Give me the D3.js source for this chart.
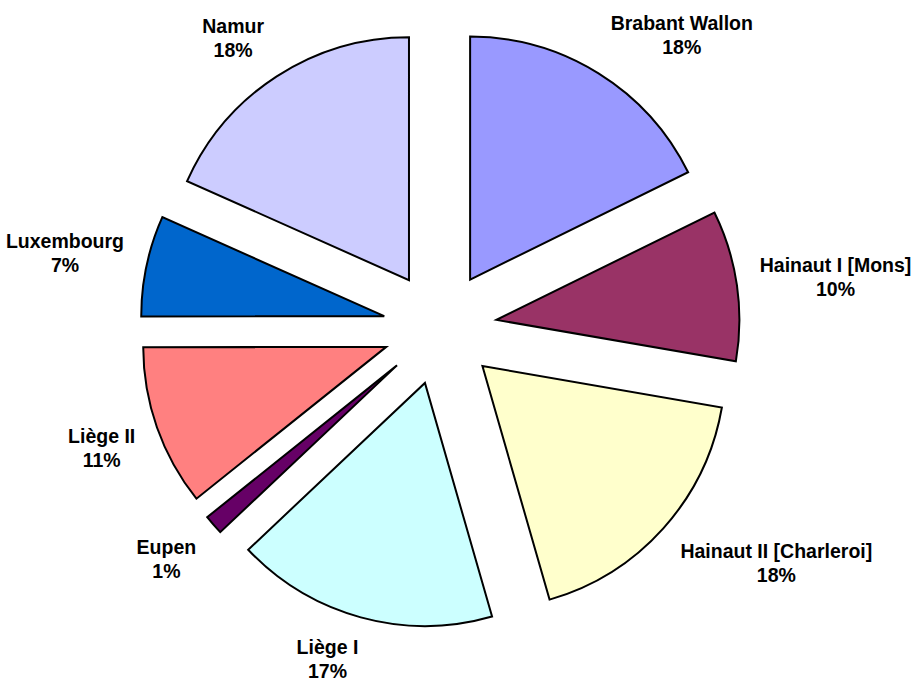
<!DOCTYPE html>
<html>
<head>
<meta charset="utf-8">
<script src="https://cdn.jsdelivr.net/npm/d3@7"></script>
<style>
  html, body { margin: 0; padding: 0; background: #fff; }
  svg { display: block; }
</style>
</head>
<body>
<svg id="chart" width="921" height="684"></svg>
<script>
// provinces, clockwise from 12 o'clock
const regions = ['Brabant Wallon', 'Hainaut I [Mons]', 'Hainaut II [Charleroi]', 'Liège I',
  'Eupen', 'Liège II', 'Luxembourg', 'Namur']
const shares = [17.7, 10.0, 17.8, 17.4, 1.3, 10.7, 6.7, 18.3]
const colors = ['#9999FF', '#993366', '#FFFFCC', '#CCFFFF', '#660066', '#FF8080', '#0066CC', '#CCCCFF']

const svg = d3.select('#chart')
const cx = 440
const cy = 328
const radius = 243
const explode = 57   // every slice pulled out the same distance
const labelDist = 266
const fontSize = 19.5
const lineGap = 24

const total = d3.sum(shares)
const data = regions.map((name, i) => ({ name: name, value: shares[i], color: colors[i] }))

const pie = d3.pie().sort(null).value(d => d.value)
const arc = d3.arc().innerRadius(0).outerRadius(radius)
const arcs = pie(data)

const dir = d => {
  const a = (d.startAngle + d.endAngle) / 2
  return { x: Math.sin(a), y: -Math.cos(a) }
}

const root = svg.append('g').attr('transform', `translate(${cx}, ${cy})`)

root.selectAll('path.slice')
  .data(arcs)
  .enter()
  .append('path')
    .attr('class', 'slice')
    .attr('transform', d => { const u = dir(d); return `translate(${u.x * explode}, ${u.y * explode})` })
    .attr('d', arc)
    .attr('fill', d => d.data.color)
    .attr('stroke', '#000')
    .attr('stroke-width', 2)
    .attr('stroke-linejoin', 'miter')

const clamp = v => Math.max(-1, Math.min(1, v))

const labels = root.selectAll('g.label')
  .data(arcs)
  .enter()
  .append('g')
    .attr('class', 'label')

labels.each(function(d) {
  const g = d3.select(this)
  const t = g.append('text')
    .attr('text-anchor', 'middle')
    .style('font-family', '"Liberation Sans", Arial, sans-serif')
    .style('font-weight', 'bold')
    .style('font-size', fontSize + 'px')
    .attr('fill', '#000')
  t.append('tspan').attr('x', 0).attr('y', 0).text(d.data.name)
  t.append('tspan').attr('x', 0).attr('y', lineGap).text(Math.round(d.data.value / total * 100) + '%')

  const w = t.node().getBBox().width
  const h = lineGap + 14
  const u = dir(d)
  // anchor point just outside the exploded slice, box hangs off it on the outer side
  const ax = u.x * (explode + labelDist)
  const ay = u.y * (explode + labelDist)
  const bx = ax + clamp(u.x / 0.3) * w / 2
  const by = ay + clamp(u.y / 0.5) * h / 2
  g.attr('transform', `translate(${bx}, ${by - 5})`)
})
</script>
</body>
</html>
